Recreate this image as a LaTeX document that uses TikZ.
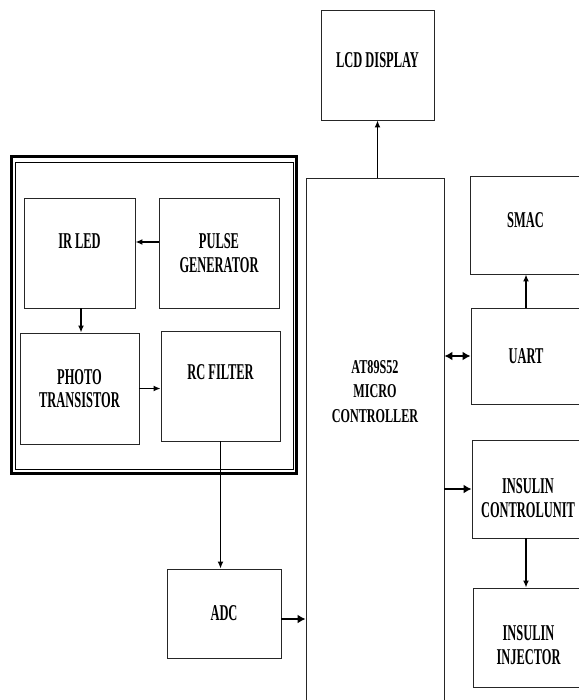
\documentclass[tikz,border=0pt]{standalone}
\usepackage{fontspec}
\setmainfont[FakeStretch=0.55]{Liberation Serif}
\newfontfamily\microfont[FakeStretch=0.62]{Liberation Serif}
\usepackage{tikz}
\usetikzlibrary{arrows.meta, positioning, calc}

\begin{document}
\begin{tikzpicture}[x=1pt, y=-1pt, >={Latex[length=7pt,width=6pt]},
    blk/.style={draw=black!85, line width=0.9pt, inner sep=0pt},
    lbl/.style={font=\bfseries\fontsize{22.6}{23.5}\selectfont, align=center, text=black},
    mlbl/.style={font=\microfont\bfseries\fontsize{19.6}{24.5}\selectfont, align=center, text=black},
    flow/.style={->, line width=1.4pt},
    bus/.style={line width=2.6pt, >={Latex[length=8pt,width=9pt]}}]
    \useasboundingbox (0,0) rectangle (578,700);
    % Sensor frame
    \draw [line width=3pt] (11.5,156.5) rectangle (296.5,473.5);
    \draw [line width=0.8pt] (15,162) rectangle (293,469);
    % Blocks
    \node[blk, minimum width=113pt, minimum height=110pt, label={[lbl, yshift=5pt]center:LCD DISPLAY}] (lcd) at (377.5,65) {};
    \node[blk, minimum width=111pt, minimum height=110pt, label={[lbl, yshift=12pt]center:IR LED}] (irled) at (79.5,253) {};
    \node[blk, minimum width=120pt, minimum height=110pt, label={[lbl]center:PULSE\\GENERATOR}] (pulse) at (219,253) {};
    \node[blk, minimum width=119pt, minimum height=111pt, label={[lbl]center:PHOTO\\TRANSISTOR}] (photo) at (79.5,388.5) {};
    \node[blk, minimum width=119pt, minimum height=110pt, label={[lbl, yshift=13.5pt]center:RC FILTER}] (rcfilter) at (220.5,386) {};
    \node[blk, minimum width=138pt, minimum height=532pt, label={[mlbl, yshift=52.5pt]center:AT89S52\\MICRO\\CONTROLLER}] (micro) at (375,444) {};
    \node[blk, minimum width=111pt, minimum height=98pt, label={[lbl, yshift=5pt]center:SMAC}] (smac) at (525.5,225) {};
    \node[blk, minimum width=110pt, minimum height=96pt, label={[lbl]center:UART}] (uart) at (526,356) {};
    \node[blk, minimum width=112pt, minimum height=98pt, label={[lbl, yshift=-9pt]center:INSULIN\\CONTROLUNIT}] (ctrl) at (528,489) {};
    \node[blk, minimum width=111pt, minimum height=99pt, label={[lbl, yshift=-7.5pt]center:INSULIN\\INJECTOR}] (inj) at (528.5,637.5) {};
    \node[blk, minimum width=114pt, minimum height=89pt, label={[lbl]center:ADC}] (adc) at (224,613.5) {};
    \coordinate (adcout) at ([yshift=-5.5pt]adc.east);
    \coordinate (pgout) at ([yshift=11pt]pulse.west);
    % Connections
    \draw [flow] (pgout) -- (irled.east |- pgout);
    \draw [flow] ([xshift=1.5pt]irled.south) -- ([xshift=1.5pt]photo.north);
    \draw [flow] (photo.east) -- (rcfilter.west |- photo.east);
    \draw [flow] (rcfilter.south) -- (rcfilter.south |- adc.north);
    \draw [bus, ->] (adcout) -- (micro.west |- adcout);
    \draw [flow] (lcd.south |- micro.north) -- (lcd.south);
    \draw [bus, <->] (micro.east |- uart.west) -- (uart.west);
    \draw [flow] (uart.north) -- (uart.north |- smac.south);
    \draw [bus, ->] (micro.east |- ctrl.west) -- (ctrl.west);
    \draw [flow] (ctrl.south -| uart.north) -- (inj.north -| uart.north);
\end{tikzpicture}
\end{document}
